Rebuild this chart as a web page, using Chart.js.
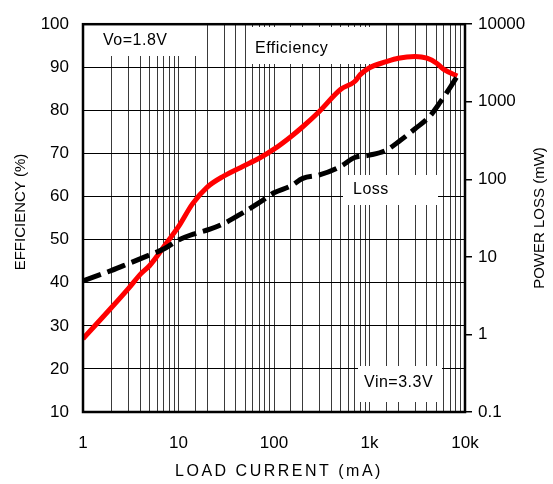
<!DOCTYPE html>
<html>
<head>
<meta charset="utf-8">
<script src="https://cdn.jsdelivr.net/npm/chart.js@4"></script>
<style>
html,body{margin:0;padding:0;background:#fff;}
canvas{display:block;}
</style>
</head>
<body>
<canvas id="c" width="553" height="484"></canvas>
<script>
// ---- data ----
const effCurrent = [1, 2, 3, 4, 5, 7.6, 10, 14, 20, 30, 47, 70, 100, 150, 200, 300, 500, 700, 800, 1000, 1500, 2000, 3000, 4000, 5000, 6000, 8300];
const effValues  = [27, 34.3, 38.7, 42, 44, 49.4, 53, 58.3, 62.2, 64.8, 67, 68.9, 71, 73.9, 76.2, 79.8, 84.9, 86.7, 88.3, 89.9, 91.3, 92.1, 92.5, 92.1, 91, 89.5, 88];
const lossCurrent = [1, 2, 3, 5, 7, 10, 15, 21, 30, 47, 70, 100, 150, 200, 300, 500, 700, 1000, 1500, 2000, 3000, 4300, 5500, 7000, 8300];
const lossValues  = [4.9, 6.7, 8.2, 10.6, 12.6, 16.5, 20, 22.6, 27, 37, 50, 67, 82, 103, 114, 147, 191, 205, 237, 303, 448, 656, 988, 1535, 2140];
const xTickLabels = {1: '1', 10: '10', 100: '100', 1000: '1k', 10000: '10k'};
const rightTickValues = [0.1, 1, 10, 100, 1000, 10000];
const rightTickLabels = ['0.1', '1', '10', '100', '1000', '10000'];

const FONT = "'Liberation Sans', Arial, sans-serif";

const notes = [
  {text: 'Vo=1.8V',   box: [95, 22, 110, 34],  tx: 103, ty: 41},
  {text: 'Efficiency', box: [250, 27, 120, 37], tx: 255, ty: 49},
  {text: 'Loss',      box: [343, 175, 95, 30],  tx: 353, ty: 190},
  {text: 'Vin=3.3V',  box: [358, 366, 84, 36],  tx: 364, ty: 383}
];

const annotPlugin = {
  id: 'annot',
  beforeDatasetsDraw(chart) {
    const ctx = chart.ctx;
    ctx.save();
    notes.forEach(n => {
      ctx.fillStyle = '#fff';
      ctx.fillRect(n.box[0], n.box[1], n.box[2], n.box[3]);
      ctx.fillStyle = '#000';
      ctx.font = '16px ' + FONT;
      ctx.textBaseline = 'middle';
      ctx.textAlign = 'left';
      ctx.letterSpacing = '0.5px';
      ctx.fillText(n.text, n.tx, n.ty);
    });
    ctx.restore();
  },
  afterDraw(chart) {
    const ctx = chart.ctx;
    const a = chart.chartArea;
    ctx.save();
    ctx.strokeStyle = '#000';
    ctx.lineWidth = 2.5;
    ctx.strokeRect(a.left, a.top, a.right - a.left, a.bottom - a.top);
    ctx.fillStyle = '#000';
    ctx.textAlign = 'center';
    ctx.textBaseline = 'middle';
    // x title
    ctx.font = '16px ' + FONT;
    ctx.letterSpacing = '2.5px';
    ctx.fillText('LOAD CURRENT (mA)', 279, 472);
    ctx.letterSpacing = '0px';
    // left title
    ctx.font = '15px ' + FONT;
    ctx.save();
    ctx.translate(21, 212);
    ctx.rotate(-Math.PI / 2);
    ctx.fillText('EFFICIENCY (%)', 0, 0);
    ctx.restore();
    // right title
    ctx.save();
    ctx.translate(540, 218);
    ctx.rotate(-Math.PI / 2);
    ctx.fillText('POWER LOSS (mW)', 0, 0);
    ctx.restore();
    ctx.restore();
  }
};

new Chart(document.getElementById('c'), {
  type: 'line',
  data: {
    datasets: [
      {
        label: 'Loss',
        data: lossCurrent.map((x, i) => ({x: x, y: lossValues[i]})),
        yAxisID: 'y1',
        borderColor: '#000',
        borderWidth: 5,
        borderDash: [19, 7],
        borderCapStyle: 'butt',
        pointRadius: 0,
        tension: 0.4,
        cubicInterpolationMode: 'monotone',
        fill: false,
        order: 0
      },
      {
        label: 'Efficiency',
        data: effCurrent.map((x, i) => ({x: x, y: effValues[i]})),
        yAxisID: 'y',
        borderColor: '#ff0000',
        borderWidth: 5,
        pointRadius: 0,
        tension: 0.4,
        cubicInterpolationMode: 'monotone',
        fill: false,
        order: 1
      }
    ]
  },
  options: {
    responsive: false,
    animation: false,
    devicePixelRatio: 1,
    layout: {padding: {top: 19, left: 0, right: 0, bottom: 0}},
    plugins: {legend: {display: false}, tooltip: {enabled: false}},
    scales: {
      x: {
        type: 'logarithmic',
        min: 1,
        max: 10000,
        afterFit(s) { s.height = 72; },
        grid: {color: '#3a3a3a', lineWidth: 1, drawTicks: false},
        border: {display: false},
        ticks: {
          autoSkip: false,
          maxRotation: 0,
          padding: 21,
          color: '#000',
          font: {family: FONT, size: 17},
          callback(v) { return xTickLabels[v] !== undefined ? xTickLabels[v] : ''; }
        }
      },
      y: {
        type: 'linear',
        position: 'left',
        min: 10,
        max: 100,
        afterFit(s) { s.width = 83; },
        grid: {color: '#000', lineWidth: 1, drawTicks: false},
        border: {display: false},
        ticks: {stepSize: 10, padding: 14, color: '#000', font: {family: FONT, size: 17}}
      },
      y1: {
        type: 'logarithmic',
        position: 'right',
        min: 0.1,
        max: 10000,
        afterFit(s) { s.width = 88; },
        afterBuildTicks(s) { s.ticks = rightTickValues.map(v => ({value: v})); },
        grid: {drawOnChartArea: false, drawTicks: true, tickLength: 7, color: '#000', lineWidth: 1.5},
        border: {display: false},
        ticks: {
          padding: 6,
          color: '#000',
          font: {family: FONT, size: 17},
          callback(v) { const i = rightTickValues.indexOf(v); return i >= 0 ? rightTickLabels[i] : ''; }
        }
      }
    }
  },
  plugins: [annotPlugin]
});
</script>
</body>
</html>
